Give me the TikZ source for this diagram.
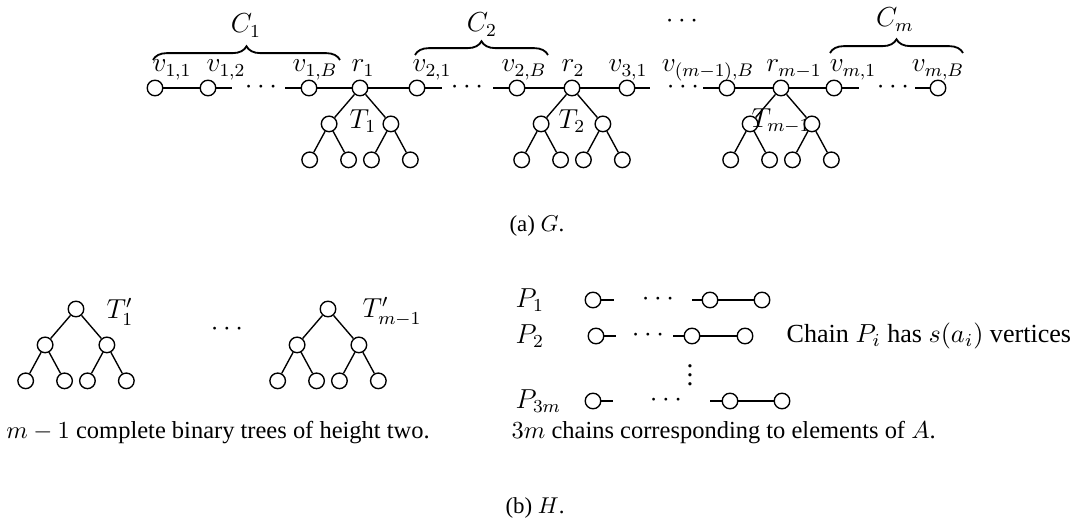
\RequirePackage{fix-cm}
\documentclass[tikz,border=0pt]{standalone}
\usepackage[no-math]{fontspec}
\setmainfont{Liberation Serif}
\usetikzlibrary{decorations.pathreplacing}

\begin{document}
\begin{tikzpicture}[
  x=0.437pt, y=-0.437pt,
  every node/.style={font=\large},
  level distance=15.7pt,
  level 1/.style={sibling distance=27pt},
  level 2/.style={sibling distance=17pt},
  vtx/.style={circle,draw,minimum size=6.8pt,inner sep=0pt},
  every child node/.style={vtx},
  lbl/.style={anchor=base,inner sep=0pt},
  dotsn/.style={anchor=base,inner sep=0pt,yshift=-2.5pt},
  capt/.style={font=\normalsize},
  subcapt/.style={font=\fontsize{10.7}{13}\selectfont},
  cbrace/.style={decorate,decoration={brace,amplitude=6pt},thick},
  semithick
]
\useasboundingbox (0,0) rectangle (1074,521);

% (a) the graph G
\node[vtx] (v11) at (155,88) {};
\node[vtx] (v12) at (208,88) {};
\node[vtx] (v1B) at (309,88) {};
\node[vtx] (r1) at (360,88) {}
  child { node {} child { node {} } child { node {} } }
  child { node {} child { node {} } child { node {} } };
\node[vtx] (v21) at (417,88) {};
\node[vtx] (v2B) at (517,88) {};
\node[vtx] (r2) at (572,88) {}
  child { node {} child { node {} } child { node {} } }
  child { node {} child { node {} } child { node {} } };
\node[vtx] (v31) at (627,88) {};
\node[vtx] (vm1B) at (727,88) {};
\node[vtx] (rm1) at (781,88) {}
  child { node {} child { node {} } child { node {} } }
  child { node {} child { node {} } child { node {} } };
\node[vtx] (vm1) at (834,88) {};
\node[vtx] (vmB) at (938,88) {};

\coordinate (s1a) at (232,88); \coordinate (s1b) at (285,88);
\coordinate (s2a) at (442,88); \coordinate (s2b) at (493,88);
\coordinate (s3a) at (650,88); \coordinate (s3b) at (703,88);
\coordinate (s4a) at (859,88); \coordinate (s4b) at (915,88);
\node[dotsn] (d1) at (261,88) {$\cdots$};
\node[dotsn] (d2) at (467,88) {$\cdots$};
\node[dotsn] (d3) at (683,88) {$\cdots$};
\node[dotsn] (d4) at (893,88) {$\cdots$};
\node[dotsn] (dtop) at (682,22) {$\cdots$};

\draw (v11) -- (v12) -- (s1a) (s1b) -- (v1B) -- (r1) -- (v21) -- (s2a)
      (s2b) -- (v2B) -- (r2) -- (v31) -- (s3a)
      (s3b) -- (vm1B) -- (rm1) -- (vm1) -- (s4a) (s4b) -- (vmB);

\node[lbl] (lv11) at (172,72) {$v_{1,1}$};
\node[lbl] (lv12) at (226,72) {$v_{1,2}$};
\node[lbl] (lv1B) at (315,72) {$v_{1,B}$};
\node[lbl] (lr1) at (363,72) {$r_1$};
\node[lbl] (lv21) at (432,72) {$v_{2,1}$};
\node[lbl] (lv2B) at (524,72) {$v_{2,B}$};
\node[lbl] (lr2) at (573,72) {$r_2$};
\node[lbl] (lv31) at (628,72) {$v_{3,1}$};
\node[lbl] (lvm1B) at (708,72) {$v_{(m-1),B}$};
\node[lbl] (lrm1) at (794,72) {$r_{m-1}$};
\node[lbl] (lvm1) at (853,72) {$v_{m,1}$};
\node[lbl] (lvmB) at (938,72) {$v_{m,B}$};

\node (lt1) at (363,121) {$T_1$};
\node (lt2) at (572,121) {$T_2$};
\node (ltm1) at (781,121) {$T_{m-1}$};

\draw[cbrace] (153,60) -- (340,60);
\draw[cbrace] (415,55) -- (548,55);
\draw[cbrace] (830,53) -- (963,53);
\node[lbl] (lc1) at (246,33) {$C_1$};
\node[lbl] (lc2) at (482,32) {$C_2$};
\node[lbl] (lcm) at (895,27) {$C_m$};

\node[capt] (capa) at (537,226) {(a) $G$.};

% (b) the graph H: trees
\node[vtx] (t1) at (76,309) {}
  child { node {} child { node {} } child { node {} } }
  child { node {} child { node {} } child { node {} } };
\node[vtx] (tm1) at (328,309) {}
  child { node {} child { node {} } child { node {} } }
  child { node {} child { node {} } child { node {} } };
\node (lt1p) at (120,312) {$T'_1$};
\node (ltm1p) at (392,312) {$T'_{m-1}$};
\node[dotsn] (dt) at (227,330) {$\cdots$};
\node[subcapt] (captr) at (218,433) {$m-1$ complete binary trees of height two.};

% (b) the graph H: chains
\node[anchor=west,inner sep=0pt] (p1) at (515,300) {$P_1$};
\node[anchor=west,inner sep=0pt] (p2) at (515,336) {$P_2$};
\node[anchor=west,inner sep=0pt] (p3m) at (515,401) {$P_{3m}$};

\node[vtx] (a1) at (593,300) {};
\node[vtx] (b1) at (710,300) {};
\node[vtx] (c1) at (762,300) {};
\node[vtx] (a2) at (596,336) {};
\node[vtx] (b2) at (692,336) {};
\node[vtx] (c2) at (745,336) {};
\node[vtx] (a3) at (593,401) {};
\node[vtx] (b3) at (730,401) {};
\node[vtx] (c3) at (782,401) {};
\coordinate (q1a) at (614,300); \coordinate (q1b) at (692,300);
\coordinate (q2a) at (616,336); \coordinate (q2b) at (673,336);
\coordinate (q3a) at (613,401); \coordinate (q3b) at (710,401);
\node[dotsn] (e1) at (658,300) {$\cdots$};
\node[dotsn] (e2) at (648,336) {$\cdots$};
\node[dotsn] (e3) at (666,401) {$\cdots$};
\node[anchor=south,inner sep=0pt] (ev) at (690,387) {$\vdots$};

\draw (a1) -- (q1a) (q1b) -- (b1) -- (c1)
      (a2) -- (q2a) (q2b) -- (b2) -- (c2)
      (a3) -- (q3a) (q3b) -- (b3) -- (c3);

\node[anchor=west,inner sep=0pt,font=\fontsize{11.4}{14}\selectfont] (chaintxt) at (786,336) {Chain $P_i$ has $s(a_i)$ vertices};
\node[subcapt,anchor=west,inner sep=0pt] (capch) at (511,433) {$3m$ chains corresponding to elements of $A$.};

\node[capt] (capb) at (535,508) {(b) $H$.};
\end{tikzpicture}
\end{document}
